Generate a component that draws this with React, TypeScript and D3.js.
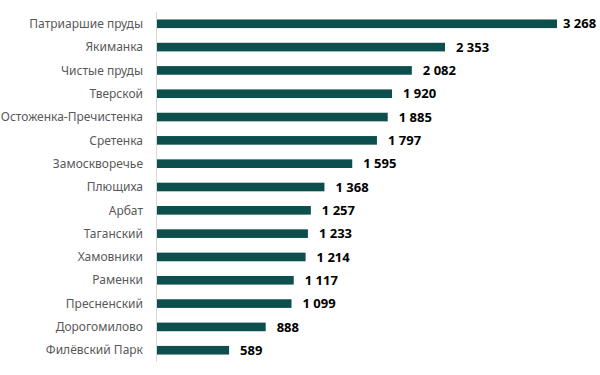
import * as d3 from "d3";

const WIDTH = 600;
const HEIGHT = 375;
const MARGIN = { top: 12, right: 43, bottom: 13, left: 157 };

const DISTRICTS = [
  "Патриаршие пруды",
  "Якиманка",
  "Чистые пруды",
  "Тверской",
  "Остоженка-Пречистенка",
  "Сретенка",
  "Замоскворечье",
  "Плющиха",
  "Арбат",
  "Таганский",
  "Хамовники",
  "Раменки",
  "Пресненский",
  "Дорогомилово",
  "Филёвский Парк",
];

const VALUES = [3268, 2353, 2082, 1920, 1885, 1797, 1595, 1368, 1257, 1233, 1214, 1117, 1099, 888, 589];

const BAR_COLOR = "#0c4f4c";

const ru = d3.formatLocale({
  decimal: ",",
  thousands: "\u00a0",
  grouping: [3],
  currency: ["", " руб."],
});
const fmt = ru.format(",d");

export default function App() {
  const boundsWidth = WIDTH - MARGIN.left - MARGIN.right;
  const boundsHeight = HEIGHT - MARGIN.top - MARGIN.bottom;

  const xScale = d3.scaleLinear().domain([0, d3.max(VALUES)!]).range([0, boundsWidth]);

  const yScale = d3
    .scaleBand<string>()
    .domain(DISTRICTS)
    .range([0, boundsHeight])
    .paddingInner(0.63)
    .paddingOuter(0.32);

  return (
    <svg width={WIDTH} height={HEIGHT} style={{ position: "absolute", left: 0, top: 0 }}>
      <rect width={WIDTH} height={HEIGHT} fill="white" />
      <g transform={`translate(${MARGIN.left},${MARGIN.top})`}>
        {DISTRICTS.map((name, i) => {
          const y = yScale(name)!;
          const w = xScale(VALUES[i]);
          const cy = y + yScale.bandwidth() / 2;
          // the longest bar leaves less room, its label sits closer
          const gap = i === 0 ? 6 : 11;
          return (
            <g key={name}>
              <rect x={0} y={y} width={w} height={yScale.bandwidth()} fill={BAR_COLOR} />
              <text
                x={-14}
                y={cy}
                dy="0.35em"
                textAnchor="end"
                fontFamily="'Noto Sans', sans-serif"
                fontSize={12}
                fill="#595959"
              >
                {name}
              </text>
              <text
                x={w + gap}
                y={cy}
                dy="0.36em"
                fontFamily="'Noto Sans', sans-serif"
                fontSize={13}
                fontWeight="bold"
                fill="#000"
              >
                {fmt(VALUES[i])}
              </text>
            </g>
          );
        })}
        {/* vertical category axis */}
        <line x1={-0.5} x2={-0.5} y1={0} y2={boundsHeight} stroke="#d9d9d9" strokeWidth={1} />
      </g>
    </svg>
  );
}
